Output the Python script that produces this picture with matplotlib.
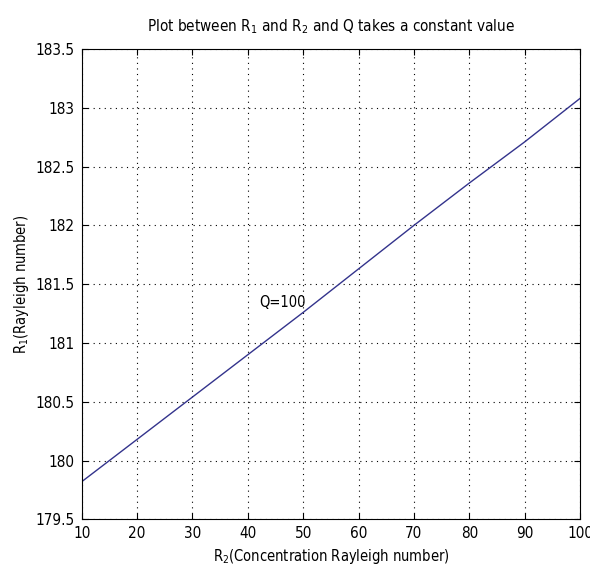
import numpy as np
import matplotlib
matplotlib.use("Agg")
import matplotlib.pyplot as plt
import matplotlib.ticker as ticker

# Values
R2 = [10, 20, 30, 40, 50, 60, 70, 80, 90, 100]
R1 = [179.82, 180.18, 180.54, 180.90, 181.26, 181.63, 182.00, 182.36, 182.71, 183.08]
Q_label = "Q=100"
Q_pos = (42.0, 181.345)

plt.rcParams['font.family'] = ['DejaVu Sans']
plt.rcParams['font.stretch'] = 'condensed'
plt.rcParams['mathtext.default'] = 'regular'

fig = plt.figure(figsize=(5.9, 5.7), dpi=100)
ax = fig.add_axes([0.1385, 0.0889, 0.8446, 0.8251])

ax.plot(R2, R1, color='#33338c', linewidth=1.0)
ax.text(Q_pos[0], Q_pos[1], Q_label, fontsize=10.5, va='center', ha='left')

ax.set_xlim(10, 100)
ax.set_ylim(179.5, 183.5)
ax.xaxis.set_major_locator(ticker.MultipleLocator(10))
ax.yaxis.set_major_locator(ticker.MultipleLocator(0.5))
ax.yaxis.set_major_formatter(ticker.FuncFormatter(lambda v, p: ('%g' % v)))
ax.grid(color='black', linestyle=(0, (1, 4)), linewidth=0.8)
ax.tick_params(direction='in', top=True, right=True, length=4, labelsize=11, pad=5)
for s in ax.spines.values():
    s.set_linewidth(0.8)

ax.set_title("Plot between R$_1$ and R$_2$ and Q takes a constant value", fontsize=11, pad=13)
ax.set_xlabel("R$_2$(Concentration Rayleigh number)", fontsize=10.5, labelpad=4)
ax.set_ylabel("R$_1$(Rayleigh number)", fontsize=10.5, labelpad=3)

fig.savefig("out.png", dpi=100)
